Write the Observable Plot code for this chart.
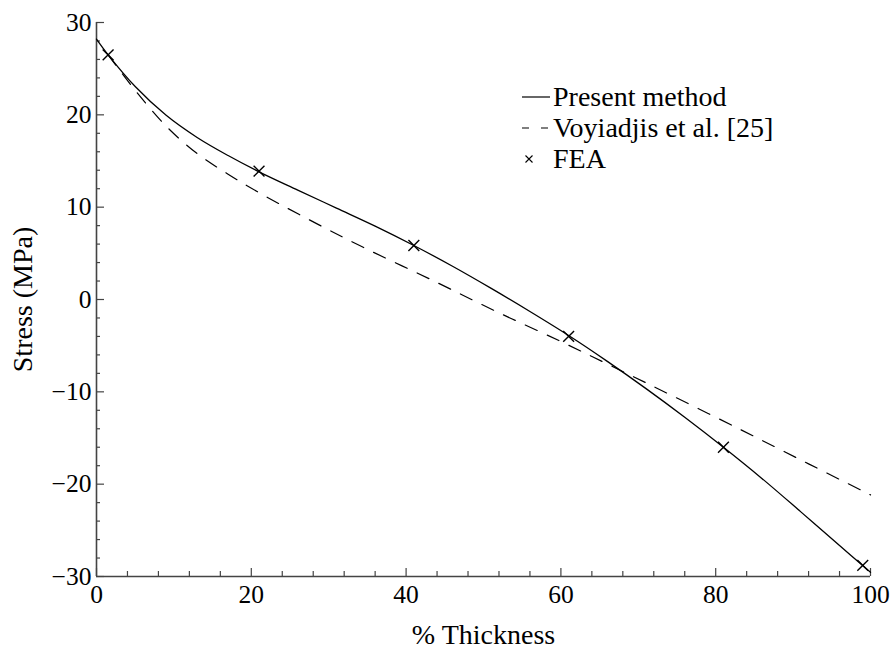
<!DOCTYPE html>
<html><head><meta charset="utf-8">
<script src="https://cdn.jsdelivr.net/npm/d3@7"></script>
<script src="https://cdn.jsdelivr.net/npm/@observablehq/plot@0.6"></script>
<style>
body{margin:0;background:#fff;}
#wrap{position:relative;width:894px;height:652px;font-family:"Liberation Serif","Times New Roman",serif;}
#legend{position:absolute;left:0;top:0;pointer-events:none;}
</style></head><body><div id="wrap"></div>
<script>
// Present method (solid)
const xPresent = [0, 1.5, 5, 9, 13, 17, 21, 26, 31, 36, 41, 46, 51, 56, 61, 66, 71, 76, 81, 86, 91, 96, 100];
const yPresent = [28.2, 26.5, 23.07, 19.95, 17.55, 15.59, 13.83, 11.85, 9.9, 7.95, 5.85, 3.6, 1.2, -1.3, -3.9, -6.7, -9.65, -12.75, -16.0, -19.4, -23.0, -26.65, -29.55];
// Voyiadjis et al. [25] (dashed)
const xVoy = [1.5, 5, 9, 13, 17, 21, 27, 34, 43.6, 52, 60, 66.4, 73, 83, 92, 100];
const yVoy = [26.5, 22.65, 18.77, 15.81, 13.57, 11.57, 8.85, 5.84, 2.0, -1.44, -4.55, -7.15, -9.85, -14.0, -17.8, -21.16];
// FEA (markers)
const xFEA = [1.5, 21, 41, 61, 81, 99];
const yFEA = [26.5, 13.9, 5.85, -4.0, -16.0, -28.8];

const xMajor = [0, 20, 40, 60, 80, 100];
const xMinor = [4, 8, 12, 16, 24, 28, 32, 36, 44, 48, 52, 56, 64, 68, 72, 76, 84, 88, 92, 96];
const yMajor = [-30, -20, -10, 0, 10, 20, 30];
const yMinor = [-28, -26, -24, -22, -18, -16, -14, -12, -8, -6, -4, -2, 2, 4, 6, 8, 12, 14, 16, 18, 22, 24, 26, 28];

const seriesNames = ["Present method", "Voyiadjis et al. [25]", "FEA"];
const xLabel = "% Thickness";
const yLabel = "Stress (MPa)";

const present = xPresent.map((x, i) => ({x, y: yPresent[i]}));
const voy = xVoy.map((x, i) => ({x, y: yVoy[i]}));
const fea = xFEA.map((x, i) => ({x, y: yFEA[i]}));

const W = 894, H = 652, mL = 96, mR = 24, mT = 22, mB = 76;
const plotW = W - mL - mR, plotH = H - mT - mB;
const font = '"Liberation Serif","Times New Roman",serif';
const axisColor = "#444";

const chart = Plot.plot({
  width: W, height: H,
  marginLeft: mL, marginRight: mR, marginTop: mT, marginBottom: mB,
  style: {fontFamily: font, fontSize: "25px", background: "white", color: "black", overflow: "visible"},
  x: {domain: [0, 100]},
  y: {domain: [-30, 30]},
  marks: [
    Plot.axisX(xMajor, {tickSize: 0, tickPadding: 8, fontSize: 25.5, label: null, fill: "black"}),
    Plot.axisY(yMajor, {tickSize: 0, tickPadding: 5, fontSize: 25.5, label: null, fill: "black",
      tickFormat: d => d < 0 ? "\u2212" + Math.abs(d) : String(d)}),
    Plot.tickX(xMajor, {x: d => d, insetTop: plotH - 8, stroke: axisColor, strokeWidth: 1.2}),
    Plot.tickX(xMinor, {x: d => d, insetTop: plotH - 5, stroke: axisColor, strokeWidth: 1.2}),
    Plot.tickY(yMajor, {y: d => d, insetRight: plotW - 8, stroke: axisColor, strokeWidth: 1.2}),
    Plot.tickY(yMinor, {y: d => d, insetRight: plotW - 4, stroke: axisColor, strokeWidth: 1.2}),
    Plot.ruleX([0], {stroke: axisColor, strokeWidth: 1.6}),
    Plot.ruleY([-30], {stroke: axisColor, strokeWidth: 1.6}),
    Plot.line(voy, {x: "x", y: "y", curve: "catmull-rom", stroke: "black", strokeWidth: 1.2, strokeDasharray: "13,11"}),
    Plot.line(present, {x: "x", y: "y", curve: "catmull-rom", stroke: "black", strokeWidth: 1.3}),
    Plot.dot(fea, {x: "x", y: "y", symbol: "times", r: 5, stroke: "black", strokeWidth: 1.4}),
    Plot.text([xLabel], {frameAnchor: "bottom", dy: 59, text: d => d, fontSize: 28, fill: "black", textAnchor: "middle", lineAnchor: "middle"}),
    Plot.text([yLabel], {frameAnchor: "left", dx: -73, rotate: -90, text: d => d, fontSize: 28, fill: "black", textAnchor: "middle", lineAnchor: "middle"})
  ]
});
document.getElementById("wrap").appendChild(chart);

// Legend overlay
const ns = "http://www.w3.org/2000/svg";
const leg = document.createElementNS(ns, "svg");
leg.setAttribute("id", "legend");
leg.setAttribute("width", W);
leg.setAttribute("height", H);
const rows = [97, 128, 159];
const lx0 = 522, lx1 = 550, tx = 553;
function el(tag, attrs) { const e = document.createElementNS(ns, tag); for (const k in attrs) e.setAttribute(k, attrs[k]); leg.appendChild(e); return e; }
el("line", {x1: lx0, x2: lx1, y1: rows[0], y2: rows[0], stroke: "black", "stroke-width": 1.2});
el("line", {x1: lx0, x2: lx1, y1: rows[1], y2: rows[1], stroke: "black", "stroke-width": 1.2, "stroke-dasharray": "7,12"});
el("path", {d: `M${529-3.5},${rows[2]-3.5}L${529+3.5},${rows[2]+3.5}M${529-3.5},${rows[2]+3.5}L${529+3.5},${rows[2]-3.5}`, stroke: "black", "stroke-width": 1.1});
seriesNames.forEach((name, i) => {
  const t = el("text", {x: tx, y: rows[i] + 9, "font-family": font, "font-size": 28, fill: "black"});
  t.textContent = name;
});
document.getElementById("wrap").appendChild(leg);
</script></body></html>
